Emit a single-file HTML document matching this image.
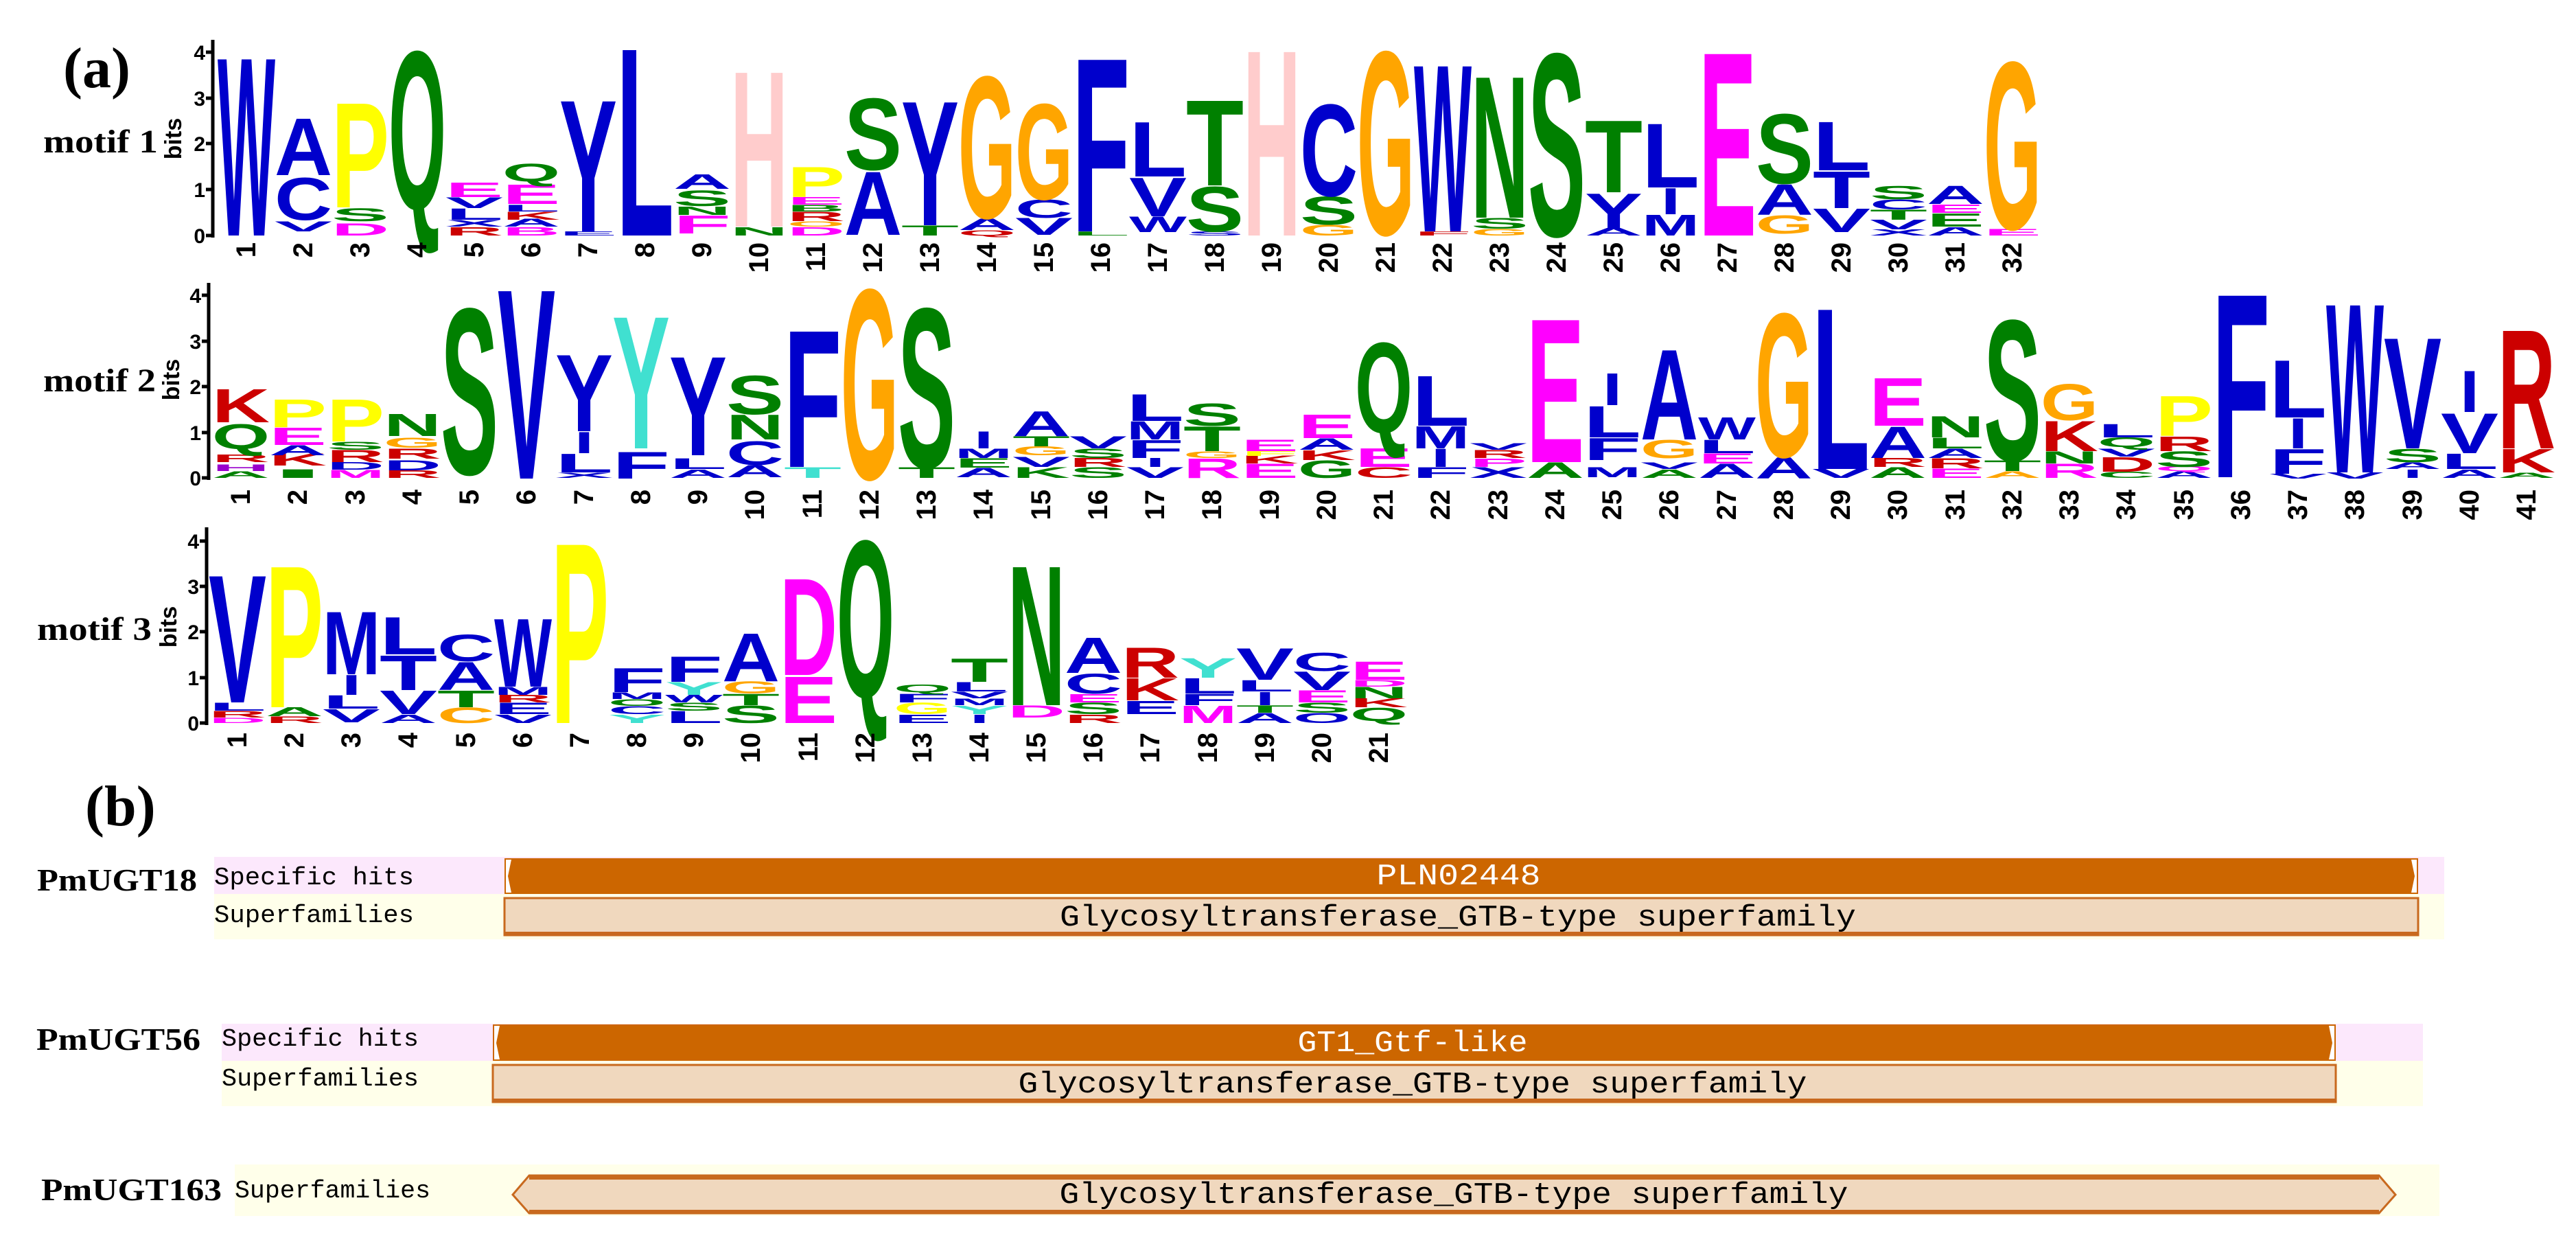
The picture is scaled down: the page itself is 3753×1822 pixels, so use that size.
<!DOCTYPE html>
<html><head><meta charset="utf-8"><style>
body{margin:0;background:#fff}
svg{display:block}
.l{font-family:"Liberation Sans",sans-serif;font-weight:bold;font-size:100px}
.b{fill:#0000cc}.g{fill:#008000}.o{fill:#ffa500}.y{fill:#ffff00}.m{fill:#ff00ff}.r{fill:#cc0000}.c{fill:#40e0d0}.p{fill:#ffcccc}.u{fill:#9900cc}
.n{font-family:"Liberation Sans",sans-serif;font-weight:bold;font-size:40px;text-anchor:end;dominant-baseline:central}
.t{font-family:"Liberation Sans",sans-serif;font-weight:bold;font-size:30px;text-anchor:end}
.s{font-family:"Liberation Serif",serif;font-weight:bold}
.mo{font-family:"Liberation Mono",monospace}
</style></head><body>
<svg width="3753" height="1822" xmlns="http://www.w3.org/2000/svg">
<text class="s" x="92" y="127" font-size="84">(a)</text>
<text class="s" x="124" y="1202" font-size="84">(b)</text>
<text class="s" x="63" y="222" font-size="48" textLength="167" lengthAdjust="spacingAndGlyphs">motif 1</text>
<text class="s" x="63" y="570" font-size="48" textLength="164" lengthAdjust="spacingAndGlyphs">motif 2</text>
<text class="s" x="54" y="932" font-size="48" textLength="167" lengthAdjust="spacingAndGlyphs">motif 3</text>
<text class="l" text-anchor="middle" transform="translate(264,202) rotate(-90)" style="font-size:34px">bits</text>
<text class="l" text-anchor="middle" transform="translate(261,553) rotate(-90)" style="font-size:34px">bits</text>
<text class="l" text-anchor="middle" transform="translate(257,913) rotate(-90)" style="font-size:34px">bits</text>
<g stroke="#000" stroke-width="5">
<line x1="310" y1="58" x2="310" y2="346"/><line x1="300" y1="343" x2="310" y2="343"/><line x1="300" y1="276" x2="310" y2="276"/><line x1="300" y1="209" x2="310" y2="209"/><line x1="300" y1="143" x2="310" y2="143"/><line x1="300" y1="76" x2="310" y2="76"/>
<line x1="304" y1="412" x2="304" y2="699"/><line x1="294" y1="696" x2="304" y2="696"/><line x1="294" y1="630" x2="304" y2="630"/><line x1="294" y1="563" x2="304" y2="563"/><line x1="294" y1="497" x2="304" y2="497"/><line x1="294" y1="430" x2="304" y2="430"/>
<line x1="301" y1="768" x2="301" y2="1056"/><line x1="291" y1="1053" x2="301" y2="1053"/><line x1="291" y1="987" x2="301" y2="987"/><line x1="291" y1="920" x2="301" y2="920"/><line x1="291" y1="854" x2="301" y2="854"/><line x1="291" y1="788" x2="301" y2="788"/>
</g>
<text class="t" x="299" y="354">0</text><text class="t" x="299" y="287">1</text><text class="t" x="299" y="220">2</text><text class="t" x="299" y="154">3</text><text class="t" x="299" y="87">4</text>
<text class="t" x="293" y="707">0</text><text class="t" x="293" y="641">1</text><text class="t" x="293" y="574">2</text><text class="t" x="293" y="508">3</text><text class="t" x="293" y="441">4</text>
<text class="t" x="290" y="1064">0</text><text class="t" x="290" y="998">1</text><text class="t" x="290" y="931">2</text><text class="t" x="290" y="865">3</text><text class="t" x="290" y="799">4</text>

<!-- motif 1 -->
<g class="l">
<text class="b" transform="translate(317,343) scale(1,3.729)" textLength="84" lengthAdjust="spacingAndGlyphs">W</text>
<text class="b" transform="translate(400,337) scale(1,.209)" textLength="84" lengthAdjust="spacingAndGlyphs">V</text>
<text class="b" transform="translate(400,320) scale(1,.88)" textLength="84" lengthAdjust="spacingAndGlyphs">C</text>
<text class="b" transform="translate(400,255) scale(1,1.187)" textLength="84" lengthAdjust="spacingAndGlyphs">A</text>
<text class="m" transform="translate(483,343) scale(1,.251)" textLength="84" lengthAdjust="spacingAndGlyphs">D</text>
<text class="g" transform="translate(483,322) scale(1,.265)" textLength="84" lengthAdjust="spacingAndGlyphs">S</text>
<text class="y" transform="translate(483,302) scale(1,2.193)" textLength="84" lengthAdjust="spacingAndGlyphs">P</text>
<text class="g" transform="translate(566,304) scale(1,3.30)" textLength="84" lengthAdjust="spacingAndGlyphs">Q</text>
<text class="r" transform="translate(649,343) scale(1,.18)" textLength="84" lengthAdjust="spacingAndGlyphs">R</text>
<text class="b" transform="translate(649,330) scale(1,.14)" textLength="84" lengthAdjust="spacingAndGlyphs">X</text>
<text class="b" transform="translate(649,320) scale(1,.237)" textLength="84" lengthAdjust="spacingAndGlyphs">L</text>
<text class="b" transform="translate(649,303) scale(1,.223)" textLength="84" lengthAdjust="spacingAndGlyphs">V</text>
<text class="m" transform="translate(649,287) scale(1,.307)" textLength="84" lengthAdjust="spacingAndGlyphs">E</text>
<text class="m" transform="translate(732,343) scale(1,.18)" textLength="84" lengthAdjust="spacingAndGlyphs">B</text>
<text class="b" transform="translate(732,330) scale(1,.168)" textLength="84" lengthAdjust="spacingAndGlyphs">A</text>
<text class="r" transform="translate(732,320) scale(1,.168)" textLength="84" lengthAdjust="spacingAndGlyphs">K</text>
<text class="b" transform="translate(732,308) scale(1,.14)" textLength="84" lengthAdjust="spacingAndGlyphs">L</text>
<text class="m" transform="translate(732,297) scale(1,.405)" textLength="84" lengthAdjust="spacingAndGlyphs">E</text>
<text class="g" transform="translate(732,264) scale(1,.372)" textLength="84" lengthAdjust="spacingAndGlyphs">Q</text>
<text class="b" transform="translate(815,343) scale(1,.084)" textLength="84" lengthAdjust="spacingAndGlyphs">E</text>
<text class="b" transform="translate(815,337) scale(1,2.751)" textLength="84" lengthAdjust="spacingAndGlyphs">Y</text>
<text class="b" transform="translate(898,343) scale(1,3.925)" textLength="84" lengthAdjust="spacingAndGlyphs">L</text>
<text class="m" transform="translate(981,340) scale(1,.377)" textLength="84" lengthAdjust="spacingAndGlyphs">F</text>
<text class="g" transform="translate(981,313) scale(1,.18)" textLength="84" lengthAdjust="spacingAndGlyphs">N</text>
<text class="g" transform="translate(981,300) scale(1,.32)" textLength="84" lengthAdjust="spacingAndGlyphs">S</text>
<text class="b" transform="translate(981,275) scale(1,.307)" textLength="84" lengthAdjust="spacingAndGlyphs">A</text>
<text class="g" transform="translate(1064,343) scale(1,.18)" textLength="84" lengthAdjust="spacingAndGlyphs">N</text>
<text class="p" transform="translate(1064,330) scale(1,3.254)" textLength="84" lengthAdjust="spacingAndGlyphs">H</text>
<text class="m" transform="translate(1147,343) scale(1,.18)" textLength="84" lengthAdjust="spacingAndGlyphs">D</text>
<text class="o" transform="translate(1147,330) scale(1,.11)" textLength="84" lengthAdjust="spacingAndGlyphs">O</text>
<text class="r" transform="translate(1147,322) scale(1,.196)" textLength="84" lengthAdjust="spacingAndGlyphs">R</text>
<text class="g" transform="translate(1147,308) scale(1,.14)" textLength="84" lengthAdjust="spacingAndGlyphs">B</text>
<text class="m" transform="translate(1147,298) scale(1,.154)" textLength="84" lengthAdjust="spacingAndGlyphs">E</text>
<text class="y" transform="translate(1147,287) scale(1,.628)" textLength="84" lengthAdjust="spacingAndGlyphs">P</text>
<text class="b" transform="translate(1230,342) scale(1,1.327)" textLength="84" lengthAdjust="spacingAndGlyphs">A</text>
<text class="g" transform="translate(1230,247) scale(1,1.494)" textLength="84" lengthAdjust="spacingAndGlyphs">S</text>
<text class="g" transform="translate(1313,343) scale(1,.21)" textLength="84" lengthAdjust="spacingAndGlyphs">T</text>
<text class="b" transform="translate(1313,328) scale(1,2.598)" textLength="84" lengthAdjust="spacingAndGlyphs">Y</text>
<text class="r" transform="translate(1396,343) scale(1,.11)" textLength="84" lengthAdjust="spacingAndGlyphs">Q</text>
<text class="b" transform="translate(1396,335) scale(1,.237)" textLength="84" lengthAdjust="spacingAndGlyphs">A</text>
<text class="o" transform="translate(1396,317) scale(1,2.961)" textLength="84" lengthAdjust="spacingAndGlyphs">G</text>
<text class="b" transform="translate(1479,342) scale(1,.349)" textLength="84" lengthAdjust="spacingAndGlyphs">V</text>
<text class="b" transform="translate(1479,317) scale(1,.377)" textLength="84" lengthAdjust="spacingAndGlyphs">C</text>
<text class="o" transform="translate(1479,290) scale(1,1.997)" textLength="84" lengthAdjust="spacingAndGlyphs">G</text>
<text class="g" transform="translate(1562,343) scale(1,.084)" textLength="84" lengthAdjust="spacingAndGlyphs">L</text>
<text class="b" transform="translate(1562,337) scale(1,3.631)" textLength="84" lengthAdjust="spacingAndGlyphs">F</text>
<text class="b" transform="translate(1645,338) scale(1,.321)" textLength="84" lengthAdjust="spacingAndGlyphs">W</text>
<text class="b" transform="translate(1645,315) scale(1,.81)" textLength="84" lengthAdjust="spacingAndGlyphs">V</text>
<text class="b" transform="translate(1645,257) scale(1,1.145)" textLength="84" lengthAdjust="spacingAndGlyphs">L</text>
<text class="b" transform="translate(1728,343) scale(1,.084)" textLength="84" lengthAdjust="spacingAndGlyphs">S</text>
<text class="g" transform="translate(1728,337) scale(1,.936)" textLength="84" lengthAdjust="spacingAndGlyphs">S</text>
<text class="g" transform="translate(1728,270) scale(1,1.788)" textLength="84" lengthAdjust="spacingAndGlyphs">T</text>
<text class="p" transform="translate(1811,343) scale(1,3.883)" textLength="84" lengthAdjust="spacingAndGlyphs">H</text>
<text class="o" transform="translate(1894,343) scale(1,.223)" textLength="84" lengthAdjust="spacingAndGlyphs">G</text>
<text class="g" transform="translate(1894,327) scale(1,.587)" textLength="84" lengthAdjust="spacingAndGlyphs">S</text>
<text class="b" transform="translate(1894,285) scale(1,1.913)" textLength="84" lengthAdjust="spacingAndGlyphs">C</text>
<text class="o" transform="translate(1977,341) scale(1,3.827)" textLength="84" lengthAdjust="spacingAndGlyphs">G</text>
<text class="r" transform="translate(2060,343) scale(1,.084)" textLength="84" lengthAdjust="spacingAndGlyphs">F</text>
<text class="b" transform="translate(2060,337) scale(1,3.492)" textLength="84" lengthAdjust="spacingAndGlyphs">W</text>
<text class="o" transform="translate(2143,343) scale(1,.14)" textLength="84" lengthAdjust="spacingAndGlyphs">G</text>
<text class="g" transform="translate(2143,333) scale(1,.223)" textLength="84" lengthAdjust="spacingAndGlyphs">S</text>
<text class="g" transform="translate(2143,317) scale(1,2.961)" textLength="84" lengthAdjust="spacingAndGlyphs">N</text>
<text class="g" transform="translate(2226,343) scale(1,3.813)" textLength="84" lengthAdjust="spacingAndGlyphs">S</text>
<text class="b" transform="translate(2309,343) scale(1,.154)" textLength="84" lengthAdjust="spacingAndGlyphs">A</text>
<text class="b" transform="translate(2309,332) scale(1,.726)" textLength="84" lengthAdjust="spacingAndGlyphs">Y</text>
<text class="g" transform="translate(2309,280) scale(1,1.508)" textLength="84" lengthAdjust="spacingAndGlyphs">T</text>
<text class="b" transform="translate(2392,343) scale(1,.433)" textLength="84" lengthAdjust="spacingAndGlyphs">M</text>
<text class="b" transform="translate(2420,312) scale(1,.545)" textLength="28" lengthAdjust="spacingAndGlyphs">I</text>
<text class="b" transform="translate(2392,273) scale(1,1.341)" textLength="84" lengthAdjust="spacingAndGlyphs">L</text>
<text class="m" transform="translate(2475,343) scale(1,3.841)" textLength="84" lengthAdjust="spacingAndGlyphs">E</text>
<text class="o" transform="translate(2558,340) scale(1,.377)" textLength="84" lengthAdjust="spacingAndGlyphs">G</text>
<text class="b" transform="translate(2558,313) scale(1,.642)" textLength="84" lengthAdjust="spacingAndGlyphs">A</text>
<text class="g" transform="translate(2558,267) scale(1,1.453)" textLength="84" lengthAdjust="spacingAndGlyphs">S</text>
<text class="b" transform="translate(2641,338) scale(1,.489)" textLength="84" lengthAdjust="spacingAndGlyphs">V</text>
<text class="b" transform="translate(2641,303) scale(1,.768)" textLength="84" lengthAdjust="spacingAndGlyphs">T</text>
<text class="b" transform="translate(2641,248) scale(1,1.02)" textLength="84" lengthAdjust="spacingAndGlyphs">L</text>
<text class="b" transform="translate(2724,343) scale(1,.126)" textLength="84" lengthAdjust="spacingAndGlyphs">X</text>
<text class="b" transform="translate(2724,334) scale(1,.2)" textLength="84" lengthAdjust="spacingAndGlyphs">V</text>
<text class="g" transform="translate(2724,320) scale(1,.21)" textLength="84" lengthAdjust="spacingAndGlyphs">T</text>
<text class="b" transform="translate(2724,305) scale(1,.21)" textLength="84" lengthAdjust="spacingAndGlyphs">C</text>
<text class="g" transform="translate(2724,290) scale(1,.279)" textLength="84" lengthAdjust="spacingAndGlyphs">S</text>
<text class="b" transform="translate(2807,343) scale(1,.18)" textLength="84" lengthAdjust="spacingAndGlyphs">A</text>
<text class="g" transform="translate(2807,330) scale(1,.279)" textLength="84" lengthAdjust="spacingAndGlyphs">E</text>
<text class="m" transform="translate(2807,310) scale(1,.18)" textLength="84" lengthAdjust="spacingAndGlyphs">E</text>
<text class="b" transform="translate(2807,297) scale(1,.377)" textLength="84" lengthAdjust="spacingAndGlyphs">A</text>
<text class="m" transform="translate(2890,343) scale(1,.14)" textLength="84" lengthAdjust="spacingAndGlyphs">E</text>
<text class="o" transform="translate(2890,333) scale(1,3.492)" textLength="84" lengthAdjust="spacingAndGlyphs">G</text>
</g>

<!-- motif 2 -->
<g class="l">
<text class="g" transform="translate(309,696) scale(1,.14)" textLength="84" lengthAdjust="spacingAndGlyphs">A</text>
<text class="u" transform="translate(309,686) scale(1,.14)" textLength="84" lengthAdjust="spacingAndGlyphs">H</text>
<text class="r" transform="translate(309,673) scale(1,.154)" textLength="84" lengthAdjust="spacingAndGlyphs">R</text>
<text class="g" transform="translate(309,654) scale(1,.516)" textLength="84" lengthAdjust="spacingAndGlyphs">Q</text>
<text class="r" transform="translate(309,615) scale(1,.698)" textLength="84" lengthAdjust="spacingAndGlyphs">K</text>
<text class="g" transform="translate(392,696) scale(1,.18)" textLength="84" lengthAdjust="spacingAndGlyphs">I</text>
<text class="r" transform="translate(392,678) scale(1,.251)" textLength="84" lengthAdjust="spacingAndGlyphs">K</text>
<text class="b" transform="translate(392,663) scale(1,.21)" textLength="84" lengthAdjust="spacingAndGlyphs">A</text>
<text class="m" transform="translate(392,648) scale(1,.363)" textLength="84" lengthAdjust="spacingAndGlyphs">E</text>
<text class="y" transform="translate(392,622) scale(1,.587)" textLength="84" lengthAdjust="spacingAndGlyphs">P</text>
<text class="m" transform="translate(476,696) scale(1,.168)" textLength="84" lengthAdjust="spacingAndGlyphs">M</text>
<text class="b" transform="translate(476,684) scale(1,.154)" textLength="84" lengthAdjust="spacingAndGlyphs">D</text>
<text class="r" transform="translate(476,673) scale(1,.251)" textLength="84" lengthAdjust="spacingAndGlyphs">R</text>
<text class="g" transform="translate(476,655) scale(1,.168)" textLength="84" lengthAdjust="spacingAndGlyphs">S</text>
<text class="y" transform="translate(476,643) scale(1,.88)" textLength="84" lengthAdjust="spacingAndGlyphs">P</text>
<text class="r" transform="translate(559,696) scale(1,.154)" textLength="84" lengthAdjust="spacingAndGlyphs">R</text>
<text class="b" transform="translate(559,685) scale(1,.21)" textLength="84" lengthAdjust="spacingAndGlyphs">D</text>
<text class="r" transform="translate(559,668) scale(1,.21)" textLength="84" lengthAdjust="spacingAndGlyphs">R</text>
<text class="o" transform="translate(559,652) scale(1,.21)" textLength="84" lengthAdjust="spacingAndGlyphs">G</text>
<text class="g" transform="translate(559,635) scale(1,.461)" textLength="84" lengthAdjust="spacingAndGlyphs">N</text>
<text class="g" transform="translate(642,690) scale(1,3.464)" textLength="84" lengthAdjust="spacingAndGlyphs">S</text>
<text class="b" transform="translate(725,697) scale(1,3.966)" textLength="84" lengthAdjust="spacingAndGlyphs">V</text>
<text class="b" transform="translate(809,696) scale(1,.112)" textLength="84" lengthAdjust="spacingAndGlyphs">X</text>
<text class="b" transform="translate(809,688) scale(1,.391)" textLength="84" lengthAdjust="spacingAndGlyphs">L</text>
<text class="b" transform="translate(837,660) scale(1,.447)" textLength="28" lengthAdjust="spacingAndGlyphs">I</text>
<text class="b" transform="translate(809,628) scale(1,1.606)" textLength="84" lengthAdjust="spacingAndGlyphs">Y</text>
<text class="b" transform="translate(892,697) scale(1,.559)" textLength="84" lengthAdjust="spacingAndGlyphs">F</text>
<text class="c" transform="translate(892,653) scale(1,2.765)" textLength="84" lengthAdjust="spacingAndGlyphs">Y</text>
<text class="b" transform="translate(975,696) scale(1,.18)" textLength="84" lengthAdjust="spacingAndGlyphs">A</text>
<text class="b" transform="translate(975,683) scale(1,.223)" textLength="84" lengthAdjust="spacingAndGlyphs">L</text>
<text class="b" transform="translate(975,663) scale(1,2.067)" textLength="84" lengthAdjust="spacingAndGlyphs">Y</text>
<text class="b" transform="translate(1058,695) scale(1,.251)" textLength="84" lengthAdjust="spacingAndGlyphs">A</text>
<text class="b" transform="translate(1058,677) scale(1,.489)" textLength="84" lengthAdjust="spacingAndGlyphs">C</text>
<text class="g" transform="translate(1058,640) scale(1,.517)" textLength="84" lengthAdjust="spacingAndGlyphs">N</text>
<text class="g" transform="translate(1058,603) scale(1,.81)" textLength="84" lengthAdjust="spacingAndGlyphs">S</text>
<text class="c" transform="translate(1142,696) scale(1,.223)" textLength="84" lengthAdjust="spacingAndGlyphs">T</text>
<text class="b" transform="translate(1142,680) scale(1,2.863)" textLength="84" lengthAdjust="spacingAndGlyphs">F</text>
<text class="o" transform="translate(1225,697) scale(1,3.966)" textLength="84" lengthAdjust="spacingAndGlyphs">G</text>
<text class="g" transform="translate(1308,696) scale(1,.223)" textLength="84" lengthAdjust="spacingAndGlyphs">T</text>
<text class="g" transform="translate(1308,680) scale(1,3.324)" textLength="84" lengthAdjust="spacingAndGlyphs">S</text>
<text class="b" transform="translate(1391,695) scale(1,.196)" textLength="84" lengthAdjust="spacingAndGlyphs">A</text>
<text class="g" transform="translate(1391,681) scale(1,.196)" textLength="84" lengthAdjust="spacingAndGlyphs">E</text>
<text class="b" transform="translate(1391,667) scale(1,.196)" textLength="84" lengthAdjust="spacingAndGlyphs">M</text>
<text class="b" transform="translate(1419,653) scale(1,.349)" textLength="28" lengthAdjust="spacingAndGlyphs">I</text>
<text class="g" transform="translate(1475,696) scale(1,.223)" textLength="84" lengthAdjust="spacingAndGlyphs">K</text>
<text class="b" transform="translate(1475,680) scale(1,.21)" textLength="84" lengthAdjust="spacingAndGlyphs">V</text>
<text class="o" transform="translate(1475,663) scale(1,.182)" textLength="84" lengthAdjust="spacingAndGlyphs">G</text>
<text class="g" transform="translate(1475,650) scale(1,.21)" textLength="84" lengthAdjust="spacingAndGlyphs">T</text>
<text class="b" transform="translate(1475,635) scale(1,.517)" textLength="84" lengthAdjust="spacingAndGlyphs">A</text>
<text class="g" transform="translate(1558,696) scale(1,.223)" textLength="84" lengthAdjust="spacingAndGlyphs">S</text>
<text class="r" transform="translate(1558,680) scale(1,.182)" textLength="84" lengthAdjust="spacingAndGlyphs">R</text>
<text class="g" transform="translate(1558,667) scale(1,.196)" textLength="84" lengthAdjust="spacingAndGlyphs">S</text>
<text class="b" transform="translate(1558,653) scale(1,.251)" textLength="84" lengthAdjust="spacingAndGlyphs">V</text>
<text class="b" transform="translate(1641,696) scale(1,.223)" textLength="84" lengthAdjust="spacingAndGlyphs">V</text>
<text class="b" transform="translate(1669,680) scale(1,.182)" textLength="28" lengthAdjust="spacingAndGlyphs">I</text>
<text class="b" transform="translate(1641,667) scale(1,.377)" textLength="84" lengthAdjust="spacingAndGlyphs">F</text>
<text class="b" transform="translate(1641,640) scale(1,.377)" textLength="84" lengthAdjust="spacingAndGlyphs">M</text>
<text class="b" transform="translate(1641,613) scale(1,.559)" textLength="84" lengthAdjust="spacingAndGlyphs">L</text>
<text class="m" transform="translate(1724,696) scale(1,.405)" textLength="84" lengthAdjust="spacingAndGlyphs">R</text>
<text class="o" transform="translate(1724,667) scale(1,.14)" textLength="84" lengthAdjust="spacingAndGlyphs">G</text>
<text class="g" transform="translate(1724,657) scale(1,.517)" textLength="84" lengthAdjust="spacingAndGlyphs">T</text>
<text class="g" transform="translate(1724,620) scale(1,.461)" textLength="84" lengthAdjust="spacingAndGlyphs">S</text>
<text class="m" transform="translate(1808,696) scale(1,.293)" textLength="84" lengthAdjust="spacingAndGlyphs">E</text>
<text class="r" transform="translate(1808,675) scale(1,.168)" textLength="84" lengthAdjust="spacingAndGlyphs">K</text>
<text class="y" transform="translate(1808,664) scale(1,.1)" textLength="84" lengthAdjust="spacingAndGlyphs">F</text>
<text class="m" transform="translate(1808,657) scale(1,.237)" textLength="84" lengthAdjust="spacingAndGlyphs">E</text>
<text class="g" transform="translate(1891,696) scale(1,.363)" textLength="84" lengthAdjust="spacingAndGlyphs">G</text>
<text class="r" transform="translate(1891,670) scale(1,.2)" textLength="84" lengthAdjust="spacingAndGlyphs">K</text>
<text class="b" transform="translate(1891,655) scale(1,.237)" textLength="84" lengthAdjust="spacingAndGlyphs">A</text>
<text class="m" transform="translate(1891,638) scale(1,.489)" textLength="84" lengthAdjust="spacingAndGlyphs">E</text>
<text class="r" transform="translate(1974,696) scale(1,.223)" textLength="84" lengthAdjust="spacingAndGlyphs">C</text>
<text class="m" transform="translate(1974,680) scale(1,.391)" textLength="84" lengthAdjust="spacingAndGlyphs">E</text>
<text class="g" transform="translate(1974,630) scale(1,1.885)" textLength="84" lengthAdjust="spacingAndGlyphs">Q</text>
<text class="b" transform="translate(2057,696) scale(1,.223)" textLength="84" lengthAdjust="spacingAndGlyphs">F</text>
<text class="b" transform="translate(2085,680) scale(1,.377)" textLength="28" lengthAdjust="spacingAndGlyphs">I</text>
<text class="b" transform="translate(2057,653) scale(1,.461)" textLength="84" lengthAdjust="spacingAndGlyphs">M</text>
<text class="b" transform="translate(2057,620) scale(1,1.047)" textLength="84" lengthAdjust="spacingAndGlyphs">L</text>
<text class="b" transform="translate(2141,696) scale(1,.223)" textLength="84" lengthAdjust="spacingAndGlyphs">X</text>
<text class="m" transform="translate(2141,680) scale(1,.18)" textLength="84" lengthAdjust="spacingAndGlyphs">P</text>
<text class="r" transform="translate(2141,667) scale(1,.168)" textLength="84" lengthAdjust="spacingAndGlyphs">R</text>
<text class="b" transform="translate(2141,655) scale(1,.14)" textLength="84" lengthAdjust="spacingAndGlyphs">V</text>
<text class="g" transform="translate(2224,696) scale(1,.321)" textLength="84" lengthAdjust="spacingAndGlyphs">A</text>
<text class="m" transform="translate(2224,673) scale(1,3.003)" textLength="84" lengthAdjust="spacingAndGlyphs">E</text>
<text class="b" transform="translate(2307,695) scale(1,.21)" textLength="84" lengthAdjust="spacingAndGlyphs">M</text>
<text class="b" transform="translate(2307,670) scale(1,.461)" textLength="84" lengthAdjust="spacingAndGlyphs">F</text>
<text class="b" transform="translate(2307,637) scale(1,.656)" textLength="84" lengthAdjust="spacingAndGlyphs">L</text>
<text class="b" transform="translate(2335,590) scale(1,.67)" textLength="28" lengthAdjust="spacingAndGlyphs">I</text>
<text class="g" transform="translate(2390,696) scale(1,.18)" textLength="84" lengthAdjust="spacingAndGlyphs">A</text>
<text class="b" transform="translate(2390,683) scale(1,.14)" textLength="84" lengthAdjust="spacingAndGlyphs">V</text>
<text class="o" transform="translate(2390,667) scale(1,.377)" textLength="84" lengthAdjust="spacingAndGlyphs">G</text>
<text class="b" transform="translate(2390,640) scale(1,1.885)" textLength="84" lengthAdjust="spacingAndGlyphs">A</text>
<text class="b" transform="translate(2474,696) scale(1,.293)" textLength="84" lengthAdjust="spacingAndGlyphs">A</text>
<text class="m" transform="translate(2474,675) scale(1,.21)" textLength="84" lengthAdjust="spacingAndGlyphs">E</text>
<text class="b" transform="translate(2474,660) scale(1,.279)" textLength="84" lengthAdjust="spacingAndGlyphs">L</text>
<text class="b" transform="translate(2474,640) scale(1,.461)" textLength="84" lengthAdjust="spacingAndGlyphs">W</text>
<text class="b" transform="translate(2557,697) scale(1,.447)" textLength="84" lengthAdjust="spacingAndGlyphs">A</text>
<text class="o" transform="translate(2557,665) scale(1,3.003)" textLength="84" lengthAdjust="spacingAndGlyphs">G</text>
<text class="b" transform="translate(2640,696) scale(1,.182)" textLength="84" lengthAdjust="spacingAndGlyphs">V</text>
<text class="b" transform="translate(2640,683) scale(1,3.366)" textLength="84" lengthAdjust="spacingAndGlyphs">L</text>
<text class="g" transform="translate(2723,696) scale(1,.223)" textLength="84" lengthAdjust="spacingAndGlyphs">A</text>
<text class="r" transform="translate(2723,680) scale(1,.182)" textLength="84" lengthAdjust="spacingAndGlyphs">R</text>
<text class="b" transform="translate(2723,667) scale(1,.656)" textLength="84" lengthAdjust="spacingAndGlyphs">A</text>
<text class="m" transform="translate(2723,620) scale(1,1.006)" textLength="84" lengthAdjust="spacingAndGlyphs">E</text>
<text class="m" transform="translate(2807,696) scale(1,.196)" textLength="84" lengthAdjust="spacingAndGlyphs">E</text>
<text class="r" transform="translate(2807,682) scale(1,.21)" textLength="84" lengthAdjust="spacingAndGlyphs">R</text>
<text class="b" transform="translate(2807,667) scale(1,.196)" textLength="84" lengthAdjust="spacingAndGlyphs">A</text>
<text class="g" transform="translate(2807,653) scale(1,.223)" textLength="84" lengthAdjust="spacingAndGlyphs">L</text>
<text class="g" transform="translate(2807,637) scale(1,.447)" textLength="84" lengthAdjust="spacingAndGlyphs">N</text>
<text class="o" transform="translate(2890,696) scale(1,.14)" textLength="84" lengthAdjust="spacingAndGlyphs">A</text>
<text class="g" transform="translate(2890,686) scale(1,.223)" textLength="84" lengthAdjust="spacingAndGlyphs">T</text>
<text class="g" transform="translate(2890,670) scale(1,2.933)" textLength="84" lengthAdjust="spacingAndGlyphs">S</text>
<text class="m" transform="translate(2973,696) scale(1,.293)" textLength="84" lengthAdjust="spacingAndGlyphs">R</text>
<text class="g" transform="translate(2973,675) scale(1,.251)" textLength="84" lengthAdjust="spacingAndGlyphs">N</text>
<text class="r" transform="translate(2973,657) scale(1,.628)" textLength="84" lengthAdjust="spacingAndGlyphs">K</text>
<text class="o" transform="translate(2973,612) scale(1,.754)" textLength="84" lengthAdjust="spacingAndGlyphs">G</text>
<text class="g" transform="translate(3056,696) scale(1,.126)" textLength="84" lengthAdjust="spacingAndGlyphs">C</text>
<text class="r" transform="translate(3056,687) scale(1,.307)" textLength="84" lengthAdjust="spacingAndGlyphs">D</text>
<text class="b" transform="translate(3056,665) scale(1,.168)" textLength="84" lengthAdjust="spacingAndGlyphs">V</text>
<text class="g" transform="translate(3056,651) scale(1,.2)" textLength="84" lengthAdjust="spacingAndGlyphs">Q</text>
<text class="b" transform="translate(3056,637) scale(1,.279)" textLength="84" lengthAdjust="spacingAndGlyphs">L</text>
<text class="b" transform="translate(3140,696) scale(1,.14)" textLength="84" lengthAdjust="spacingAndGlyphs">A</text>
<text class="m" transform="translate(3140,686) scale(1,.1)" textLength="84" lengthAdjust="spacingAndGlyphs">Q</text>
<text class="g" transform="translate(3140,680) scale(1,.321)" textLength="84" lengthAdjust="spacingAndGlyphs">S</text>
<text class="r" transform="translate(3140,657) scale(1,.307)" textLength="84" lengthAdjust="spacingAndGlyphs">R</text>
<text class="y" transform="translate(3140,635) scale(1,.838)" textLength="84" lengthAdjust="spacingAndGlyphs">P</text>
<text class="b" transform="translate(3223,695) scale(1,3.841)" textLength="84" lengthAdjust="spacingAndGlyphs">F</text>
<text class="b" transform="translate(3306,697) scale(1,.098)" textLength="84" lengthAdjust="spacingAndGlyphs">V</text>
<text class="b" transform="translate(3306,690) scale(1,.517)" textLength="84" lengthAdjust="spacingAndGlyphs">F</text>
<text class="b" transform="translate(3334,653) scale(1,.628)" textLength="28" lengthAdjust="spacingAndGlyphs">I</text>
<text class="b" transform="translate(3306,608) scale(1,1.201)" textLength="84" lengthAdjust="spacingAndGlyphs">L</text>
<text class="b" transform="translate(3389,697) scale(1,.126)" textLength="84" lengthAdjust="spacingAndGlyphs">V</text>
<text class="b" transform="translate(3389,688) scale(1,3.534)" textLength="84" lengthAdjust="spacingAndGlyphs">W</text>
<text class="b" transform="translate(3501,696) scale(1,.18)" textLength="28" lengthAdjust="spacingAndGlyphs">I</text>
<text class="b" transform="translate(3473,683) scale(1,.14)" textLength="84" lengthAdjust="spacingAndGlyphs">A</text>
<text class="g" transform="translate(3473,673) scale(1,.279)" textLength="84" lengthAdjust="spacingAndGlyphs">S</text>
<text class="b" transform="translate(3473,653) scale(1,2.318)" textLength="84" lengthAdjust="spacingAndGlyphs">V</text>
<text class="b" transform="translate(3556,696) scale(1,.18)" textLength="84" lengthAdjust="spacingAndGlyphs">A</text>
<text class="b" transform="translate(3556,683) scale(1,.321)" textLength="84" lengthAdjust="spacingAndGlyphs">L</text>
<text class="b" transform="translate(3556,660) scale(1,.838)" textLength="84" lengthAdjust="spacingAndGlyphs">V</text>
<text class="b" transform="translate(3584,600) scale(1,.866)" textLength="28" lengthAdjust="spacingAndGlyphs">I</text>
<text class="g" transform="translate(3639,696) scale(1,.112)" textLength="84" lengthAdjust="spacingAndGlyphs">A</text>
<text class="r" transform="translate(3639,688) scale(1,.489)" textLength="84" lengthAdjust="spacingAndGlyphs">K</text>
<text class="r" transform="translate(3639,653) scale(1,2.486)" textLength="84" lengthAdjust="spacingAndGlyphs">R</text>
</g>

<!-- motif 3 -->
<g class="l">
<text class="m" transform="translate(304,1053) scale(1,.112)" textLength="84" lengthAdjust="spacingAndGlyphs">D</text>
<text class="r" transform="translate(304,1045) scale(1,.14)" textLength="84" lengthAdjust="spacingAndGlyphs">R</text>
<text class="b" transform="translate(304,1035) scale(1,.168)" textLength="84" lengthAdjust="spacingAndGlyphs">L</text>
<text class="b" transform="translate(304,1023) scale(1,2.668)" textLength="84" lengthAdjust="spacingAndGlyphs">V</text>
<text class="r" transform="translate(387,1053) scale(1,.14)" textLength="84" lengthAdjust="spacingAndGlyphs">R</text>
<text class="g" transform="translate(387,1043) scale(1,.182)" textLength="84" lengthAdjust="spacingAndGlyphs">A</text>
<text class="y" transform="translate(387,1030) scale(1,2.961)" textLength="84" lengthAdjust="spacingAndGlyphs">P</text>
<text class="b" transform="translate(470,1052) scale(1,.279)" textLength="84" lengthAdjust="spacingAndGlyphs">V</text>
<text class="b" transform="translate(470,1032) scale(1,.279)" textLength="84" lengthAdjust="spacingAndGlyphs">L</text>
<text class="b" transform="translate(498,1012) scale(1,.419)" textLength="28" lengthAdjust="spacingAndGlyphs">I</text>
<text class="b" transform="translate(470,982) scale(1,1.313)" textLength="84" lengthAdjust="spacingAndGlyphs">M</text>
<text class="b" transform="translate(553,1053) scale(1,.18)" textLength="84" lengthAdjust="spacingAndGlyphs">A</text>
<text class="b" transform="translate(553,1040) scale(1,.489)" textLength="84" lengthAdjust="spacingAndGlyphs">V</text>
<text class="b" transform="translate(553,1005) scale(1,.726)" textLength="84" lengthAdjust="spacingAndGlyphs">T</text>
<text class="b" transform="translate(553,953) scale(1,.782)" textLength="84" lengthAdjust="spacingAndGlyphs">L</text>
<text class="o" transform="translate(637,1053) scale(1,.321)" textLength="84" lengthAdjust="spacingAndGlyphs">C</text>
<text class="g" transform="translate(637,1030) scale(1,.349)" textLength="84" lengthAdjust="spacingAndGlyphs">T</text>
<text class="b" transform="translate(637,1005) scale(1,.587)" textLength="84" lengthAdjust="spacingAndGlyphs">A</text>
<text class="b" transform="translate(637,963) scale(1,.559)" textLength="84" lengthAdjust="spacingAndGlyphs">C</text>
<text class="b" transform="translate(720,1053) scale(1,.18)" textLength="84" lengthAdjust="spacingAndGlyphs">V</text>
<text class="b" transform="translate(720,1040) scale(1,.237)" textLength="84" lengthAdjust="spacingAndGlyphs">E</text>
<text class="r" transform="translate(720,1023) scale(1,.154)" textLength="84" lengthAdjust="spacingAndGlyphs">R</text>
<text class="b" transform="translate(720,1012) scale(1,.168)" textLength="84" lengthAdjust="spacingAndGlyphs">M</text>
<text class="b" transform="translate(720,1000) scale(1,1.425)" textLength="84" lengthAdjust="spacingAndGlyphs">W</text>
<text class="y" transform="translate(803,1053) scale(1,3.771)" textLength="84" lengthAdjust="spacingAndGlyphs">P</text>
<text class="c" transform="translate(886,1053) scale(1,.18)" textLength="84" lengthAdjust="spacingAndGlyphs">Y</text>
<text class="b" transform="translate(886,1040) scale(1,.168)" textLength="84" lengthAdjust="spacingAndGlyphs">C</text>
<text class="g" transform="translate(886,1028) scale(1,.14)" textLength="84" lengthAdjust="spacingAndGlyphs">O</text>
<text class="b" transform="translate(886,1018) scale(1,.14)" textLength="84" lengthAdjust="spacingAndGlyphs">M</text>
<text class="b" transform="translate(886,1008) scale(1,.503)" textLength="84" lengthAdjust="spacingAndGlyphs">F</text>
<text class="b" transform="translate(969,1053) scale(1,.251)" textLength="84" lengthAdjust="spacingAndGlyphs">L</text>
<text class="g" transform="translate(969,1035) scale(1,.168)" textLength="84" lengthAdjust="spacingAndGlyphs">S</text>
<text class="b" transform="translate(969,1023) scale(1,.154)" textLength="84" lengthAdjust="spacingAndGlyphs">W</text>
<text class="c" transform="translate(969,1012) scale(1,.265)" textLength="84" lengthAdjust="spacingAndGlyphs">Y</text>
<text class="b" transform="translate(969,993) scale(1,.531)" textLength="84" lengthAdjust="spacingAndGlyphs">F</text>
<text class="g" transform="translate(1052,1053) scale(1,.363)" textLength="84" lengthAdjust="spacingAndGlyphs">S</text>
<text class="g" transform="translate(1052,1027) scale(1,.237)" textLength="84" lengthAdjust="spacingAndGlyphs">T</text>
<text class="o" transform="translate(1052,1010) scale(1,.251)" textLength="84" lengthAdjust="spacingAndGlyphs">G</text>
<text class="b" transform="translate(1052,992) scale(1,1.006)" textLength="84" lengthAdjust="spacingAndGlyphs">A</text>
<text class="m" transform="translate(1136,1053) scale(1,.978)" textLength="84" lengthAdjust="spacingAndGlyphs">E</text>
<text class="m" transform="translate(1136,983) scale(1,2.025)" textLength="84" lengthAdjust="spacingAndGlyphs">D</text>
<text class="g" transform="translate(1219,1015) scale(1,3.277)" textLength="84" lengthAdjust="spacingAndGlyphs">Q</text>
<text class="b" transform="translate(1302,1053) scale(1,.18)" textLength="84" lengthAdjust="spacingAndGlyphs">E</text>
<text class="y" transform="translate(1302,1040) scale(1,.237)" textLength="84" lengthAdjust="spacingAndGlyphs">G</text>
<text class="b" transform="translate(1302,1023) scale(1,.18)" textLength="84" lengthAdjust="spacingAndGlyphs">F</text>
<text class="g" transform="translate(1302,1008) scale(1,.16)" textLength="84" lengthAdjust="spacingAndGlyphs">Q</text>
<text class="b" transform="translate(1413,1053) scale(1,.18)" textLength="28" lengthAdjust="spacingAndGlyphs">I</text>
<text class="c" transform="translate(1385,1040) scale(1,.18)" textLength="84" lengthAdjust="spacingAndGlyphs">Y</text>
<text class="b" transform="translate(1385,1027) scale(1,.14)" textLength="84" lengthAdjust="spacingAndGlyphs">M</text>
<text class="b" transform="translate(1385,1017) scale(1,.14)" textLength="84" lengthAdjust="spacingAndGlyphs">V</text>
<text class="b" transform="translate(1385,1007) scale(1,.196)" textLength="84" lengthAdjust="spacingAndGlyphs">L</text>
<text class="g" transform="translate(1385,993) scale(1,.489)" textLength="84" lengthAdjust="spacingAndGlyphs">T</text>
<text class="m" transform="translate(1468,1045) scale(1,.251)" textLength="84" lengthAdjust="spacingAndGlyphs">D</text>
<text class="g" transform="translate(1468,1027) scale(1,2.919)" textLength="84" lengthAdjust="spacingAndGlyphs">N</text>
<text class="r" transform="translate(1551,1053) scale(1,.18)" textLength="84" lengthAdjust="spacingAndGlyphs">R</text>
<text class="g" transform="translate(1551,1040) scale(1,.237)" textLength="84" lengthAdjust="spacingAndGlyphs">S</text>
<text class="m" transform="translate(1551,1023) scale(1,.18)" textLength="84" lengthAdjust="spacingAndGlyphs">E</text>
<text class="b" transform="translate(1551,1010) scale(1,.419)" textLength="84" lengthAdjust="spacingAndGlyphs">C</text>
<text class="b" transform="translate(1551,980) scale(1,.74)" textLength="84" lengthAdjust="spacingAndGlyphs">A</text>
<text class="b" transform="translate(1634,1040) scale(1,.279)" textLength="84" lengthAdjust="spacingAndGlyphs">E</text>
<text class="r" transform="translate(1634,1020) scale(1,.461)" textLength="84" lengthAdjust="spacingAndGlyphs">K</text>
<text class="r" transform="translate(1634,987) scale(1,.628)" textLength="84" lengthAdjust="spacingAndGlyphs">R</text>
<text class="m" transform="translate(1718,1053) scale(1,.363)" textLength="84" lengthAdjust="spacingAndGlyphs">M</text>
<text class="b" transform="translate(1718,1027) scale(1,.237)" textLength="84" lengthAdjust="spacingAndGlyphs">F</text>
<text class="b" transform="translate(1718,1010) scale(1,.321)" textLength="84" lengthAdjust="spacingAndGlyphs">L</text>
<text class="c" transform="translate(1718,987) scale(1,.405)" textLength="84" lengthAdjust="spacingAndGlyphs">Y</text>
<text class="b" transform="translate(1801,1053) scale(1,.21)" textLength="84" lengthAdjust="spacingAndGlyphs">A</text>
<text class="g" transform="translate(1801,1038) scale(1,.154)" textLength="84" lengthAdjust="spacingAndGlyphs">T</text>
<text class="b" transform="translate(1829,1027) scale(1,.279)" textLength="28" lengthAdjust="spacingAndGlyphs">I</text>
<text class="b" transform="translate(1801,1007) scale(1,.237)" textLength="84" lengthAdjust="spacingAndGlyphs">L</text>
<text class="b" transform="translate(1801,990) scale(1,.656)" textLength="84" lengthAdjust="spacingAndGlyphs">V</text>
<text class="b" transform="translate(1884,1053) scale(1,.21)" textLength="84" lengthAdjust="spacingAndGlyphs">O</text>
<text class="g" transform="translate(1884,1038) scale(1,.21)" textLength="84" lengthAdjust="spacingAndGlyphs">S</text>
<text class="m" transform="translate(1884,1023) scale(1,.251)" textLength="84" lengthAdjust="spacingAndGlyphs">E</text>
<text class="b" transform="translate(1884,1005) scale(1,.391)" textLength="84" lengthAdjust="spacingAndGlyphs">V</text>
<text class="b" transform="translate(1884,977) scale(1,.377)" textLength="84" lengthAdjust="spacingAndGlyphs">C</text>
<text class="g" transform="translate(1967,1050) scale(1,.28)" textLength="84" lengthAdjust="spacingAndGlyphs">Q</text>
<text class="r" transform="translate(1967,1030) scale(1,.182)" textLength="84" lengthAdjust="spacingAndGlyphs">K</text>
<text class="g" transform="translate(1967,1017) scale(1,.237)" textLength="84" lengthAdjust="spacingAndGlyphs">N</text>
<text class="m" transform="translate(1967,1000) scale(1,.14)" textLength="84" lengthAdjust="spacingAndGlyphs">D</text>
<text class="m" transform="translate(1967,990) scale(1,.377)" textLength="84" lengthAdjust="spacingAndGlyphs">E</text>
</g>

<!-- column numbers -->
<g class="n">
<text transform="translate(359,353) rotate(-90)">1</text><text transform="translate(442,353) rotate(-90)">2</text><text transform="translate(525,353) rotate(-90)">3</text><text transform="translate(608,353) rotate(-90)">4</text><text transform="translate(691,353) rotate(-90)">5</text><text transform="translate(774,353) rotate(-90)">6</text><text transform="translate(857,353) rotate(-90)">7</text><text transform="translate(940,353) rotate(-90)">8</text><text transform="translate(1023,353) rotate(-90)">9</text><text transform="translate(1106,353) rotate(-90)">10</text><text transform="translate(1189,353) rotate(-90)">11</text><text transform="translate(1272,353) rotate(-90)">12</text><text transform="translate(1355,353) rotate(-90)">13</text><text transform="translate(1438,353) rotate(-90)">14</text><text transform="translate(1521,353) rotate(-90)">15</text><text transform="translate(1604,353) rotate(-90)">16</text><text transform="translate(1687,353) rotate(-90)">17</text><text transform="translate(1770,353) rotate(-90)">18</text><text transform="translate(1853,353) rotate(-90)">19</text><text transform="translate(1936,353) rotate(-90)">20</text><text transform="translate(2019,353) rotate(-90)">21</text><text transform="translate(2102,353) rotate(-90)">22</text><text transform="translate(2185,353) rotate(-90)">23</text><text transform="translate(2268,353) rotate(-90)">24</text><text transform="translate(2351,353) rotate(-90)">25</text><text transform="translate(2434,353) rotate(-90)">26</text><text transform="translate(2517,353) rotate(-90)">27</text><text transform="translate(2600,353) rotate(-90)">28</text><text transform="translate(2683,353) rotate(-90)">29</text><text transform="translate(2766,353) rotate(-90)">30</text><text transform="translate(2849,353) rotate(-90)">31</text><text transform="translate(2932,353) rotate(-90)">32</text>
<text transform="translate(351,713) rotate(-90)">1</text><text transform="translate(434,713) rotate(-90)">2</text><text transform="translate(518,713) rotate(-90)">3</text><text transform="translate(601,713) rotate(-90)">4</text><text transform="translate(684,713) rotate(-90)">5</text><text transform="translate(767,713) rotate(-90)">6</text><text transform="translate(851,713) rotate(-90)">7</text><text transform="translate(934,713) rotate(-90)">8</text><text transform="translate(1017,713) rotate(-90)">9</text><text transform="translate(1100,713) rotate(-90)">10</text><text transform="translate(1184,713) rotate(-90)">11</text><text transform="translate(1267,713) rotate(-90)">12</text><text transform="translate(1350,713) rotate(-90)">13</text><text transform="translate(1433,713) rotate(-90)">14</text><text transform="translate(1517,713) rotate(-90)">15</text><text transform="translate(1600,713) rotate(-90)">16</text><text transform="translate(1683,713) rotate(-90)">17</text><text transform="translate(1766,713) rotate(-90)">18</text><text transform="translate(1850,713) rotate(-90)">19</text><text transform="translate(1933,713) rotate(-90)">20</text><text transform="translate(2016,713) rotate(-90)">21</text><text transform="translate(2099,713) rotate(-90)">22</text><text transform="translate(2183,713) rotate(-90)">23</text><text transform="translate(2266,713) rotate(-90)">24</text><text transform="translate(2349,713) rotate(-90)">25</text><text transform="translate(2432,713) rotate(-90)">26</text><text transform="translate(2516,713) rotate(-90)">27</text><text transform="translate(2599,713) rotate(-90)">28</text><text transform="translate(2682,713) rotate(-90)">29</text><text transform="translate(2765,713) rotate(-90)">30</text><text transform="translate(2849,713) rotate(-90)">31</text><text transform="translate(2932,713) rotate(-90)">32</text><text transform="translate(3015,713) rotate(-90)">33</text><text transform="translate(3098,713) rotate(-90)">34</text><text transform="translate(3182,713) rotate(-90)">35</text><text transform="translate(3265,713) rotate(-90)">36</text><text transform="translate(3348,713) rotate(-90)">37</text><text transform="translate(3431,713) rotate(-90)">38</text><text transform="translate(3515,713) rotate(-90)">39</text><text transform="translate(3598,713) rotate(-90)">40</text><text transform="translate(3681,713) rotate(-90)">41</text>
<text transform="translate(346,1067) rotate(-90)">1</text><text transform="translate(429,1067) rotate(-90)">2</text><text transform="translate(512,1067) rotate(-90)">3</text><text transform="translate(595,1067) rotate(-90)">4</text><text transform="translate(679,1067) rotate(-90)">5</text><text transform="translate(762,1067) rotate(-90)">6</text><text transform="translate(845,1067) rotate(-90)">7</text><text transform="translate(928,1067) rotate(-90)">8</text><text transform="translate(1011,1067) rotate(-90)">9</text><text transform="translate(1094,1067) rotate(-90)">10</text><text transform="translate(1178,1067) rotate(-90)">11</text><text transform="translate(1261,1067) rotate(-90)">12</text><text transform="translate(1344,1067) rotate(-90)">13</text><text transform="translate(1427,1067) rotate(-90)">14</text><text transform="translate(1510,1067) rotate(-90)">15</text><text transform="translate(1593,1067) rotate(-90)">16</text><text transform="translate(1676,1067) rotate(-90)">17</text><text transform="translate(1760,1067) rotate(-90)">18</text><text transform="translate(1843,1067) rotate(-90)">19</text><text transform="translate(1926,1067) rotate(-90)">20</text><text transform="translate(2009,1067) rotate(-90)">21</text>
</g>

<!-- part b -->
<rect x="312" y="1248" width="3249" height="54" fill="#fce8fc"/>
<rect x="312" y="1302" width="3249" height="66" fill="#ffffea"/>
<rect x="735" y="1308" width="2788" height="54" fill="#f0d8be" stroke="#c8691e" stroke-width="3"/>
<rect x="735" y="1357" width="2788" height="6" fill="#c8691e"/>
<polygon points="735,1250 3523,1250 3523,1302 735,1302" fill="#cc6600"/>
<polygon points="737,1252 745,1252 740,1276 745,1300 737,1300" fill="#fff"/>
<polygon points="3521,1252 3513,1252 3518,1276 3513,1300 3521,1300" fill="#fff"/>
<text class="s" x="54" y="1297" font-size="46" textLength="233" lengthAdjust="spacingAndGlyphs">PmUGT18</text>
<text class="mo" x="312" y="1288" font-size="36" textLength="291" lengthAdjust="spacingAndGlyphs">Specific hits</text>
<text class="mo" x="312" y="1343" font-size="36" textLength="291" lengthAdjust="spacingAndGlyphs">Superfamilies</text>
<text class="mo" x="2125" y="1288" font-size="44" fill="#fff" text-anchor="middle" textLength="239" lengthAdjust="spacingAndGlyphs">PLN02448</text>
<text class="mo" x="2124" y="1348" font-size="44" text-anchor="middle" textLength="1160" lengthAdjust="spacingAndGlyphs">Glycosyltransferase_GTB-type superfamily</text>

<rect x="323" y="1491" width="3207" height="54" fill="#fce8fc"/>
<rect x="323" y="1545" width="3207" height="66" fill="#ffffea"/>
<rect x="718" y="1551" width="2685" height="54" fill="#f0d8be" stroke="#c8691e" stroke-width="3"/>
<rect x="718" y="1600" width="2685" height="6" fill="#c8691e"/>
<polygon points="718,1492 3403,1492 3403,1545 718,1545" fill="#cc6600"/>
<polygon points="720,1494 728,1494 723,1519 728,1543 720,1543" fill="#fff"/>
<polygon points="3401,1494 3393,1494 3398,1519 3393,1543 3401,1543" fill="#fff"/>
<text class="s" x="53" y="1529" font-size="46" textLength="239" lengthAdjust="spacingAndGlyphs">PmUGT56</text>
<text class="mo" x="323" y="1523" font-size="36" textLength="287" lengthAdjust="spacingAndGlyphs">Specific hits</text>
<text class="mo" x="323" y="1581" font-size="36" textLength="287" lengthAdjust="spacingAndGlyphs">Superfamilies</text>
<text class="mo" x="2058" y="1531" font-size="44" fill="#fff" text-anchor="middle" textLength="335" lengthAdjust="spacingAndGlyphs">GT1_Gtf-like</text>
<text class="mo" x="2058" y="1591" font-size="44" text-anchor="middle" textLength="1149" lengthAdjust="spacingAndGlyphs">Glycosyltransferase_GTB-type superfamily</text>

<rect x="342" y="1696" width="3212" height="75" fill="#ffffea"/>
<polygon points="747,1740 771,1712 3466,1712 3490,1740 3466,1767 771,1767" fill="#f0d8be" stroke="#c8691e" stroke-width="3"/>
<rect x="771" y="1711" width="2695" height="7" fill="#c8691e"/>
<rect x="771" y="1762" width="2695" height="5" fill="#c8691e"/>
<text class="s" x="60" y="1748" font-size="46" textLength="263" lengthAdjust="spacingAndGlyphs">PmUGT163</text>
<text class="mo" x="342" y="1744" font-size="36" textLength="285" lengthAdjust="spacingAndGlyphs">Superfamilies</text>
<text class="mo" x="2118" y="1752" font-size="44" text-anchor="middle" textLength="1149" lengthAdjust="spacingAndGlyphs">Glycosyltransferase_GTB-type superfamily</text>
</svg>
</body></html>
